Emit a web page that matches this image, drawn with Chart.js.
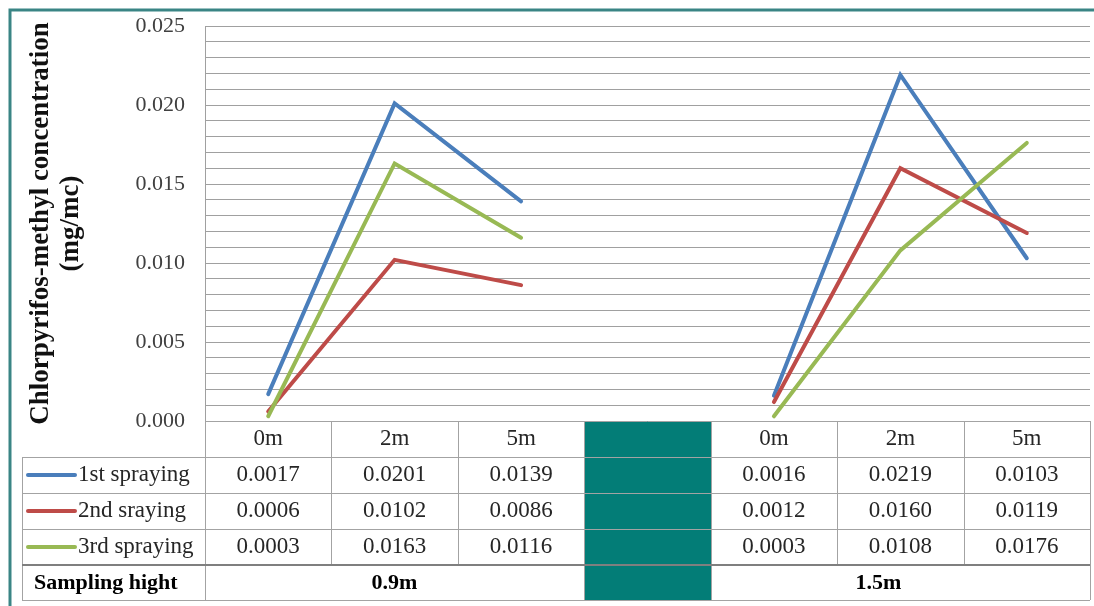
<!DOCTYPE html>
<html>
<head>
<meta charset="utf-8">
<script src="https://cdn.jsdelivr.net/npm/chart.js@4.4.0/dist/chart.umd.min.js"></script>
<style>
  body { margin: 0; background: #fff; }
  canvas { display: block; }
</style>
</head>
<body>
<canvas id="myChart" width="1094" height="606"></canvas>
<script>
// dados do grafico //
const distances = ['0m', '2m', '5m'];
const heights = ['0.9m', '1.5m'];
const seriesNames = ['1st spraying', '2nd sraying', '3rd spraying'];
const spraying1 = [0.0017, 0.0201, 0.0139, 0.0016, 0.0219, 0.0103];
const spraying2 = [0.0006, 0.0102, 0.0086, 0.0012, 0.0160, 0.0119];
const spraying3 = [0.0003, 0.0163, 0.0116, 0.0003, 0.0108, 0.0176];
const yTicks = [0, 0.005, 0.010, 0.015, 0.020, 0.025];
const colors = ['#4a7ebb', '#be4b48', '#98b954'];

const serif = "'Liberation Serif', 'Times New Roman', serif";

// coluna vazia entre as duas alturas
const labels = [...distances, '', ...distances];
const allSeries = [spraying1, spraying2, spraying3];
function withGap(values) {
  return [...values.slice(0, 3), null, ...values.slice(3)];
}

// tabela de dados embaixo do grafico (estilo excel)
const tablePlugin = {
  id: 'dataTable',
  afterDraw(chart) {
    const ctx = chart.ctx;
    const area = chart.chartArea;
    const xs = chart.scales.x;
    const colW = (area.right - area.left) / labels.length;
    const bounds = labels.map((l, i) => Math.round(area.left + i * colW)).concat(Math.round(area.right));
    const top = Math.round(area.bottom);
    const rowH = 36;
    const rows = [top, top + rowH, top + 2 * rowH, top + 3 * rowH, top + 4 * rowH, 600];
    const tableLeft = 22;
    const gapCol = 3;

    ctx.save();
    ctx.fillStyle = '#037d77';
    ctx.fillRect(bounds[gapCol], top, bounds[gapCol + 1] - bounds[gapCol], rows[5] - top);

    ctx.strokeStyle = '#a3a3a3';
    ctx.lineWidth = 1;
    const hline = (y, x1, x2) => { ctx.beginPath(); ctx.moveTo(x1, y + 0.5); ctx.lineTo(x2, y + 0.5); ctx.stroke(); };
    const vline = (x, y1, y2) => { ctx.beginPath(); ctx.moveTo(x + 0.5, y1); ctx.lineTo(x + 0.5, y2); ctx.stroke(); };

    hline(rows[0], bounds[0], bounds[7]);
    for (let r = 1; r <= 3; r++) hline(rows[r], tableLeft, bounds[7]);
    hline(rows[5], tableLeft, bounds[7]);
    vline(tableLeft, rows[1], rows[5]);
    bounds.forEach((b, i) => {
      const full = (i === 0 || i === gapCol || i === gapCol + 1 || i === 7);
      vline(b, rows[0], full ? rows[5] : rows[4]);
    });
    // linha dupla antes da ultima linha
    ctx.strokeStyle = '#7f7f7f';
    ctx.lineWidth = 2;
    ctx.beginPath(); ctx.moveTo(tableLeft, rows[4]); ctx.lineTo(bounds[7], rows[4]); ctx.stroke();

    ctx.textBaseline = 'middle';
    ctx.textAlign = 'center';
    ctx.fillStyle = '#262626';
    ctx.font = '23px ' + serif;
    labels.forEach((lab, i) => {
      if (i === gapCol) return;
      ctx.fillText(lab, xs.getPixelForValue(i), (rows[0] + rows[1]) / 2);
    });
    allSeries.forEach((vals, s) => {
      const yMid = (rows[s + 1] + rows[s + 2]) / 2;
      withGap(vals).forEach((v, i) => {
        if (v === null) return;
        ctx.fillText(v.toFixed(4), xs.getPixelForValue(i), yMid);
      });
      // legenda
      ctx.save();
      ctx.strokeStyle = colors[s];
      ctx.lineWidth = 4;
      ctx.lineCap = 'round';
      ctx.beginPath(); ctx.moveTo(28, yMid); ctx.lineTo(75, yMid); ctx.stroke();
      ctx.restore();
      ctx.textAlign = 'left';
      ctx.fillText(seriesNames[s], 78, yMid);
      ctx.textAlign = 'center';
    });

    const lastMid = (rows[4] + rows[5]) / 2 + 1;
    ctx.fillStyle = '#000';
    ctx.font = 'bold 22px ' + serif;
    ctx.textAlign = 'left';
    ctx.fillText('Sampling hight', 34, lastMid);
    ctx.textAlign = 'center';
    ctx.fillText(heights[0], (bounds[0] + bounds[gapCol]) / 2, lastMid);
    ctx.fillText(heights[1], (bounds[gapCol + 1] + bounds[7]) / 2 - 22, lastMid);

    // moldura
    ctx.strokeStyle = '#3a8585';
    ctx.lineWidth = 3;
    ctx.beginPath(); ctx.moveTo(10, 606); ctx.lineTo(10, 10); ctx.lineTo(1094, 10); ctx.stroke();
    ctx.restore();
  }
};

const ctx = document.getElementById('myChart');

new Chart(ctx, {
  type: 'line',
  data: {
    labels: labels,
    datasets: allSeries.map((vals, i) => ({
      label: seriesNames[i],
      data: withGap(vals),
      borderColor: colors[i],
      backgroundColor: colors[i],
      borderWidth: 4,
      pointRadius: 0,
      tension: 0,
      spanGaps: false,
      borderCapStyle: 'round',
      order: 3 - i
    }))
  },
  options: {
    responsive: false,
    animation: false,
    layout: { padding: { top: 26, right: 4, bottom: 185, left: 0 } },
    plugins: {
      legend: { display: false },
      tooltip: { enabled: false }
    },
    scales: {
      x: {
        offset: true,
        ticks: { display: false },
        grid: { display: false, drawTicks: false },
        border: { display: false }
      },
      y: {
        min: 0,
        max: 0.025,
        afterFit(scale) {
          scale.width = 205;
          scale.paddingTop = 0;
          scale.paddingBottom = 0;
        },
        ticks: {
          stepSize: 0.001,
          maxTicksLimit: 40,
          autoSkip: false,
          padding: 20,
          color: '#404040',
          font: { family: serif, size: 22 },
          callback: (v) => yTicks.some(t => Math.abs(t - v) < 1e-9) ? v.toFixed(3) : ''
        },
        grid: { color: '#a0a0a0', drawTicks: false },
        border: { color: '#a0a0a0' },
        title: {
          display: true,
          text: ['Chlorpyrifos-methyl concentration', '(mg/mc)'],
          color: '#111',
          font: { family: serif, size: 27, weight: 'bold', lineHeight: 1.1 },
          padding: { top: 26, bottom: 0 }
        }
      }
    }
  },
  plugins: [tablePlugin]
});
</script>
</body>
</html>
